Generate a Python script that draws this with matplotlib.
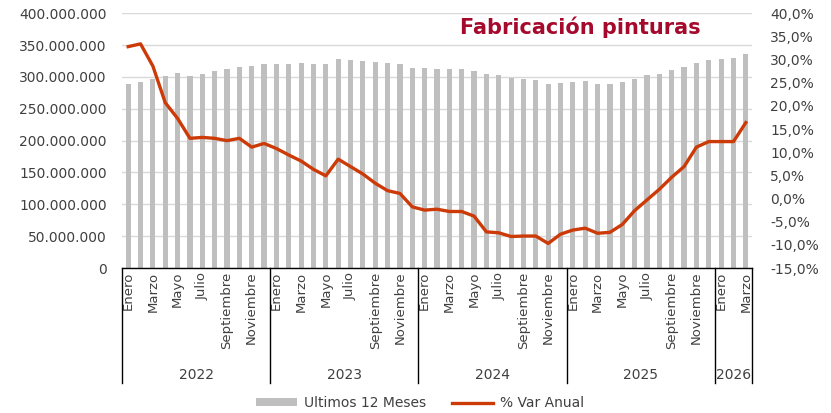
import matplotlib
matplotlib.use("Agg")
import matplotlib.pyplot as plt
from matplotlib.ticker import FuncFormatter, MultipleLocator
from matplotlib.lines import Line2D
from matplotlib.patches import Patch

years = ["2022", "2023", "2024", "2025", "2026"]
months_per_year = [12, 12, 12, 12, 3]
month_names = ["Enero", "Febrero", "Marzo", "Abril", "Mayo", "Junio", "Julio",
               "Agosto", "Septiembre", "Octubre", "Noviembre", "Diciembre"]

ultimos_12 = [289.0, 292.6, 296.8, 301.0, 305.8, 302.0, 305.0, 309.4, 312.5, 315.7, 316.8, 320.4,
              320.4, 320.4, 321.5, 320.4, 320.4, 327.7, 326.6, 325.6, 323.0, 321.5, 320.4, 314.6,
              313.6, 312.0, 312.0, 312.0, 309.4, 304.7, 302.6, 298.9, 296.8, 295.3, 289.5, 290.5,
              292.1, 293.7, 289.5, 289.5, 292.1, 296.8, 302.6, 304.7, 310.4, 315.2, 321.5, 326.2,
              327.7, 329.3, 335.6]  # millions
var_anual = [32.8, 33.4, 28.6, 20.7, 17.3, 13.0, 13.2, 13.0, 12.5, 13.0, 11.1, 11.9,
             10.8, 9.4, 8.1, 6.3, 4.9, 8.5, 6.9, 5.3, 3.3, 1.7, 1.1, -1.8,
             -2.5, -2.3, -2.8, -2.8, -3.8, -7.2, -7.4, -8.2, -8.1, -8.1, -9.7, -7.7,
             -6.8, -6.4, -7.5, -7.3, -5.6, -2.6, -0.3, 2.0, 4.6, 6.9, 11.1, 12.3,
             12.3, 12.3, 16.4]

title = "Fabricación pinturas"
bar_label = "Ultimos 12 Meses"
line_label = "% Var Anual"

BAR_C = "#BFBFBF"
LINE_C = "#CC3A08"
TITLE_C = "#A50A2D"
TXT_C = "#404040"

plt.rcParams['font.family'] = ['DejaVu Sans']

W, H = 831, 413
fig = plt.figure(figsize=(W / 100, H / 100), dpi=100)
ax = fig.add_axes([122 / W, 1 - 268 / H, (752 - 122) / W, (268 - 13.3) / H])

n = len(ultimos_12)
x = list(range(n))
ax.bar(x, [v * 1e6 for v in ultimos_12], width=0.42, color=BAR_C, zorder=2)
ax.set_xlim(-0.5, n - 0.5)
ax.set_ylim(0, 400e6)
ax.yaxis.set_major_locator(MultipleLocator(50e6))
ax.yaxis.set_major_formatter(FuncFormatter(lambda v, p: f"{int(round(v)):,}".replace(",", ".")))
ax.grid(axis='y', color="#D9D9D9", linewidth=1, zorder=0)
ax.set_axisbelow(True)
for s in ["left", "right", "top"]:
    ax.spines[s].set_visible(False)
ax.spines["bottom"].set_color("black")
ax.spines["bottom"].set_linewidth(1)
ax.tick_params(axis='y', length=0, labelsize=10, labelcolor=TXT_C, pad=11)
ax.set_xticks([])

ax2 = ax.twinx()
ax2.plot(x, var_anual, color=LINE_C, linewidth=2.4, zorder=5, solid_joinstyle='round')
ax2.set_ylim(-15, 40)
ax2.yaxis.set_major_locator(MultipleLocator(5))
ax2.yaxis.set_major_formatter(FuncFormatter(lambda v, p: f"{v:.1f}%".replace(".", ",")))
for s in ["left", "right", "top", "bottom"]:
    ax2.spines[s].set_visible(False)
ax2.tick_params(axis='y', length=0, labelsize=10, labelcolor=TXT_C, pad=13)

# Multi-level category axis
idx = 0
bounds = [-0.5]
for yr, m in zip(years, months_per_year):
    for k in range(m):
        if k % 2 == 0:
            ax.text(idx + k, -0.015, month_names[k], rotation=90, ha='center', va='top',
                    fontsize=9.5, color=TXT_C, transform=ax.get_xaxis_transform(), clip_on=False)
    ax.text(idx + (m - 1) / 2, -0.42, yr, ha='center', va='center', fontsize=10,
            color=TXT_C, transform=ax.get_xaxis_transform(), clip_on=False)
    idx += m
    bounds.append(idx - 0.5)
for b in bounds:
    ax.add_line(Line2D([b, b], [0, -0.452], color="black", linewidth=1,
                       transform=ax.get_xaxis_transform(), clip_on=False))

fig.text(580 / W, 1 - 27 / H, title, ha='center', va='center', fontsize=15,
         fontweight='bold', color=TITLE_C)

handles = [Patch(facecolor=BAR_C, edgecolor='none'),
           Line2D([0], [0], color=LINE_C, linewidth=2.4)]
fig.legend(handles, [bar_label, line_label], loc='center', bbox_to_anchor=(420 / W, 1 - 403 / H),
           ncol=2, frameon=False, fontsize=10, handlelength=3.0, handleheight=0.5,
           columnspacing=1.8, handletextpad=0.5, labelcolor=TXT_C)

fig.savefig("out.png", dpi=100)
